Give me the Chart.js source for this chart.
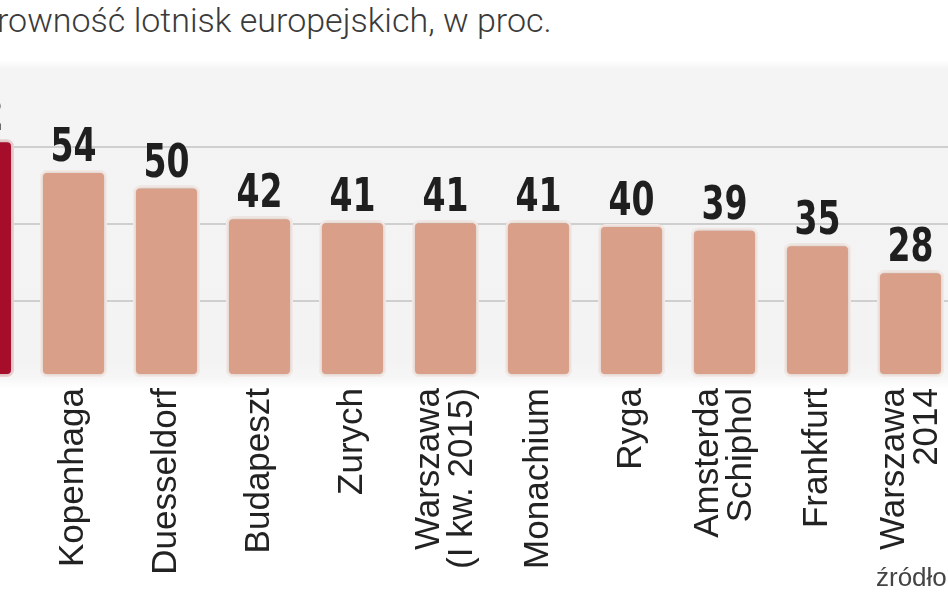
<!DOCTYPE html>
<html>
<head>
<meta charset="utf-8">
<script src="https://cdn.jsdelivr.net/npm/chart.js@4/dist/chart.umd.min.js"></script>
<style>
  html, body { margin: 0; padding: 0; width: 948px; height: 593px; overflow: hidden; background: #ffffff; }
  #bg { position: absolute; left: 0; top: 60px; width: 948px; height: 328px;
        background: linear-gradient(to bottom, #ffffff 0px, #f4f4f4 9px, #f3f3f3 300px, #f6f6f6 318px, #ffffff 328px); }
  #title { position: absolute; left: -3px; top: 0px; font-family: Roboto, "Open Sans", sans-serif; font-weight: 300;
           font-size: 34px; color: #3a3a3a; white-space: nowrap; }
  #src { position: absolute; left: 876px; top: 562px; font-family: "Liberation Sans", Arial, sans-serif;
         font-size: 26px; color: #444; white-space: nowrap; }
  #wrap { position: absolute; left: -66px; top: 0; }
</style>
</head>
<body>
<div id="bg"></div>
<div id="title">rowność lotnisk europejskich, w proc.</div>
<div id="wrap"><canvas id="c" width="1023" height="593"></canvas></div>
<div id="src">źródło</div>
<script>
const categories = ["", "Kopenhaga", "Duesseldorf", "Budapeszt", "Zurych", ["Warszawa", "(I kw. 2015)"],
  "Monachium", "Ryga", ["Amsterda", "Schiphol"], "Frankfurt", ["Warszawa", "2014"]];
const values = [62, 54, 50, 42, 41, 41, 41, 40, 39, 35, 28];
const gridTicks = [20, 40, 60];

const barFill = values.map((v, i) => i === 0 ? '#a50d2b' : '#da9f89');
const barEdge = values.map((v, i) => i === 0 ? '#f3d6d8' : '#fcf1ec');

const shadowPlugin = {
  id: 'shadow',
  beforeDatasetsDraw(chart) {
    const ctx = chart.ctx;
    ctx.save();
    ctx.shadowColor = 'rgba(0,0,0,0.22)';
    ctx.shadowBlur = 5;
  },
  afterDatasetsDraw(chart) {
    chart.ctx.restore();
  }
};

const valueLabels = {
  id: 'valueLabels',
  afterDatasetsDraw(chart) {
    const ctx = chart.ctx;
    const meta = chart.getDatasetMeta(0);
    meta.data.forEach((bar, i) => {
      ctx.save();
      ctx.translate(bar.x, bar.y - 9);
      ctx.scale(0.8, 1);
      ctx.font = 'bold 46px "DejaVu Sans Condensed", "DejaVu Sans", sans-serif';
      ctx.fillStyle = '#1f1f1f';
      ctx.textAlign = 'center';
      ctx.textBaseline = 'alphabetic';
      ctx.fillText(String(values[i]), 0, 0);
      ctx.restore();
    });
  }
};

// category labels on the x scale, rotated, multi-line blocks centred on their tick
const categoryLabels = {
  id: 'categoryLabels',
  afterDraw(chart) {
    const ctx = chart.ctx;
    const xs = chart.scales.x;
    const lineGap = 33;
    categories.forEach((lab, i) => {
      const lines = Array.isArray(lab) ? lab : [lab];
      const x = xs.getPixelForTick(i);
      ctx.save();
      ctx.translate(x, xs.top + 10);
      ctx.rotate(-Math.PI / 2);
      ctx.font = '35px "Liberation Sans", Arial, sans-serif';
      ctx.fillStyle = '#222';
      ctx.textAlign = 'right';
      ctx.textBaseline = 'middle';
      lines.forEach((ln, j) => {
        ctx.fillText(ln, 0, (j - (lines.length - 1) / 2) * lineGap);
      });
      ctx.restore();
    });
  }
};

const chart = new Chart(document.getElementById('c'), {
  type: 'bar',
  data: {
    labels: categories,
    datasets: [{
      data: values,
      backgroundColor: barFill,
      borderColor: barEdge,
      borderWidth: 3,
      borderRadius: 7,
      borderSkipped: false,
      categoryPercentage: 1,
      barPercentage: 0.72
    }]
  },
  options: {
    responsive: false,
    animation: false,
    devicePixelRatio: 1,
    layout: { padding: { top: 70, left: 0, right: 0, bottom: 0 } },
    plugins: { legend: { display: false }, tooltip: { enabled: false } },
    scales: {
      x: {
        grid: { display: false, drawTicks: false },
        border: { display: false },
        ticks: { display: false, autoSkip: false },
        afterFit(scale) { scale.height = 215; }
      },
      y: {
        display: true,
        min: 0, max: 80,
        afterBuildTicks(scale) { scale.ticks = [0, ...gridTicks, 80].map(v => ({ value: v })); },
        ticks: { display: false },
        border: { display: false },
        grid: {
          drawTicks: false,
          color: ctx => gridTicks.includes(ctx.tick.value) ? '#cfcfcf' : 'rgba(0,0,0,0)',
          lineWidth: 2
        },
        afterFit(scale) { scale.width = 0; }
      }
    }
  },
  plugins: [shadowPlugin, valueLabels, categoryLabels]
});
</script>
</body>
</html>
